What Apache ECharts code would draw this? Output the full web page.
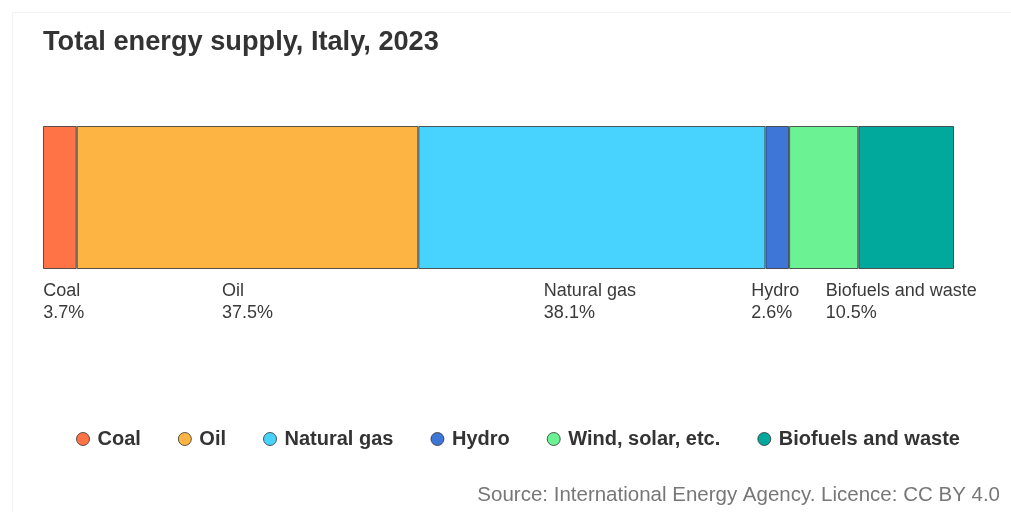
<!DOCTYPE html>
<html>
<head>
<meta charset="utf-8">
<script src="https://cdn.jsdelivr.net/npm/echarts@6/dist/echarts.min.js"></script>
<style>
  html, body { margin: 0; padding: 0; background: #ffffff; }
  #frame { position: absolute; left: 12px; top: 12px; width: 1010px; height: 510px;
           border-left: 1px solid #f2f2f2; border-top: 1px solid #f2f2f2; }
  #chart { position: absolute; left: 0; top: 0; width: 1011px; height: 512px; }
</style>
</head>
<body>
<div id="frame"></div>
<div id="chart"></div>
<script>
// Share of total energy supply by source (percent)
const sources = ['Coal', 'Oil', 'Natural gas', 'Hydro', 'Wind, solar, etc.', 'Biofuels and waste'];
const shares = [3.7, 37.5, 38.1, 2.6, 7.6, 10.5];
const colors = ['#FF7346', '#FDB442', '#48D3FF', '#3E76D8', '#6AF293', '#00A99B'];
const showLabel = [true, true, true, true, false, true];
const categories = ['Italy'];

// small horizontal nudges so neighbouring labels keep clear of each other / the edges
const labelNudge = [4, 0, -2, -2, 0, -5];

const FONT = 'Liberation Sans, Arial, sans-serif';
const chart = echarts.init(document.getElementById('chart'), null, { renderer: 'canvas' });

const series = sources.map((name, i) => ({
  name: name,
  type: 'bar',
  stack: 'total',
  barWidth: '100%',
  data: [shares[i]],
  itemStyle: { color: colors[i], borderColor: 'rgba(50,50,50,0.8)', borderWidth: 1 },
  emphasis: { disabled: true },
  label: {
    show: showLabel[i],
    position: 'bottom',
    distance: 11,
    offset: [labelNudge[i], 0],
    formatter: (p) => '{n|' + p.seriesName + '}\n{n|' + p.value.toFixed(1) + '%}',
    rich: {
      n: { fontFamily: FONT, fontSize: 18, lineHeight: 22, color: '#3a3a3a', align: 'left' }
    }
  }
}));

chart.setOption({
  animation: false,
  title: {
    text: 'Total energy supply, Italy, 2023',
    left: 43, top: 29, padding: 0,
    textStyle: { fontFamily: FONT, fontSize: 27.2, fontWeight: 'bold', color: '#333333' }
  },
  legend: {
    data: sources,
    left: 76, top: 429,
    icon: 'circle', itemWidth: 13, itemHeight: 13, itemGap: 37,
    padding: 0,
    itemStyle: { borderColor: 'rgba(50,50,50,0.8)', borderWidth: 1 },
    textStyle: { fontFamily: FONT, fontSize: 20, fontWeight: 'bold', color: '#333333',
                 padding: [0, 0, 0, 3] }
  },
  graphic: [{
    type: 'text',
    right: 11, top: 485,
    style: { text: 'Source: International Energy Agency. Licence: CC BY 4.0',
             fontFamily: FONT, fontSize: 20.5, fill: '#777777' }
  }],
  grid: { left: 43, right: 57, top: 126, bottom: 243, containLabel: false },
  xAxis: { type: 'value', min: 0, max: 100, show: false },
  yAxis: { type: 'category', data: categories, show: false },
  series: series
});
</script>
</body>
</html>
